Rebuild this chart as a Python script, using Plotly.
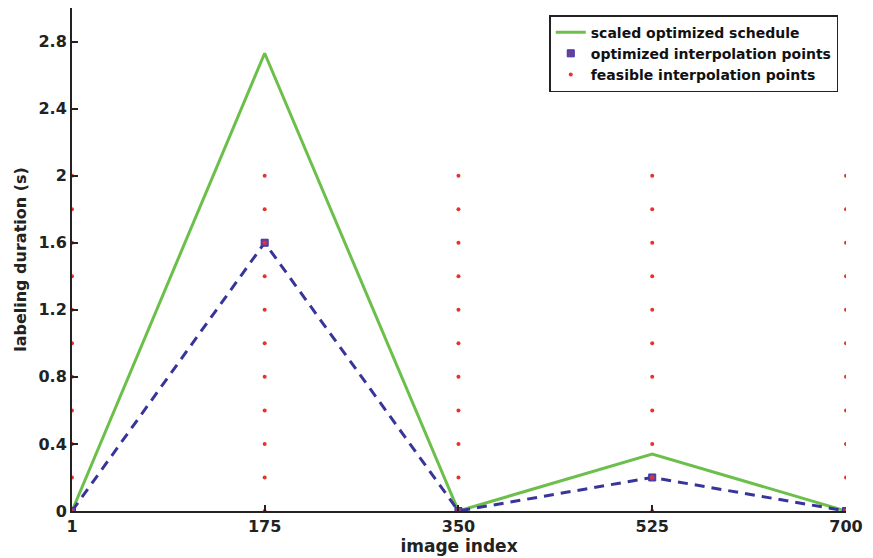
import plotly.graph_objects as go

x_idx = [1, 175, 350, 525, 700]
optimized = [0, 1.6, 0, 0.2, 0]
scaled = [0, 2.73, 0, 0.34, 0]
feasible_levels = [0, 0.2, 0.4, 0.6, 0.8, 1.0, 1.2, 1.4, 1.6, 1.8, 2.0]
y_ticks = [0, 0.4, 0.8, 1.2, 1.6, 2.0, 2.4, 2.8]
y_tick_text = ["0", "0.4", "0.8", "1.2", "1.6", "2", "2.4", "2.8"]

fx = [x for x in x_idx for _ in feasible_levels]
fy = [y for _ in x_idx for y in feasible_levels]

FONT = "DejaVu Sans"
fig = go.Figure()
fig.add_trace(go.Scatter(x=x_idx, y=scaled, mode="lines", name="scaled optimized schedule",
                         line=dict(color="#6cbf4a", width=3)))
fig.add_trace(go.Scatter(x=x_idx, y=optimized, mode="lines", showlegend=False,
                         line=dict(color="#38359a", width=3, dash="10px,7px")))
fig.add_trace(go.Scatter(x=x_idx, y=optimized, mode="markers", name="optimized interpolation points",
                         marker=dict(symbol="square", color="#6a3fa0", size=7,
                                     line=dict(color="#38359a", width=1))))
fig.add_trace(go.Scatter(x=fx, y=fy, mode="markers", name="feasible interpolation points",
                         marker=dict(color="#e8322a", size=4)))

fig.update_layout(
    width=865, height=550,
    margin=dict(l=64, r=27, t=0, b=47),
    plot_bgcolor="white", paper_bgcolor="white",
    font=dict(family=FONT, size=16, color="#222"),
    showlegend=True,
    legend=dict(x=0.99, y=0.986, xanchor="right", yanchor="top",
                bgcolor="white", bordercolor="#222", borderwidth=1.5,
                font=dict(family=FONT, size=14, weight="bold", color="#111"),
                tracegroupgap=0),
    xaxis=dict(range=[1, 700], tickvals=x_idx, ticktext=[str(v) for v in x_idx],
               ticks="inside", ticklen=6, tickwidth=1.5, tickcolor="#222",
               showline=True, linecolor="#222", linewidth=2, showgrid=False, zeroline=False,
               tickfont=dict(family=FONT, size=16, weight="bold", color="#222"),
               title=dict(text="image index", standoff=2,
                          font=dict(family=FONT, size=17, weight="bold", color="#222"))),
    yaxis=dict(range=[0, 3.0], tickvals=y_ticks, ticktext=y_tick_text,
               ticks="inside", ticklen=6, tickwidth=1.5, tickcolor="#222",
               showline=True, linecolor="#222", linewidth=2, showgrid=False, zeroline=False,
               tickfont=dict(family=FONT, size=16, weight="bold", color="#222"),
               title=dict(text="labeling duration (s)", standoff=8,
                          font=dict(family=FONT, size=16, weight="bold", color="#222"))),
)
fig.write_html("out.html")
